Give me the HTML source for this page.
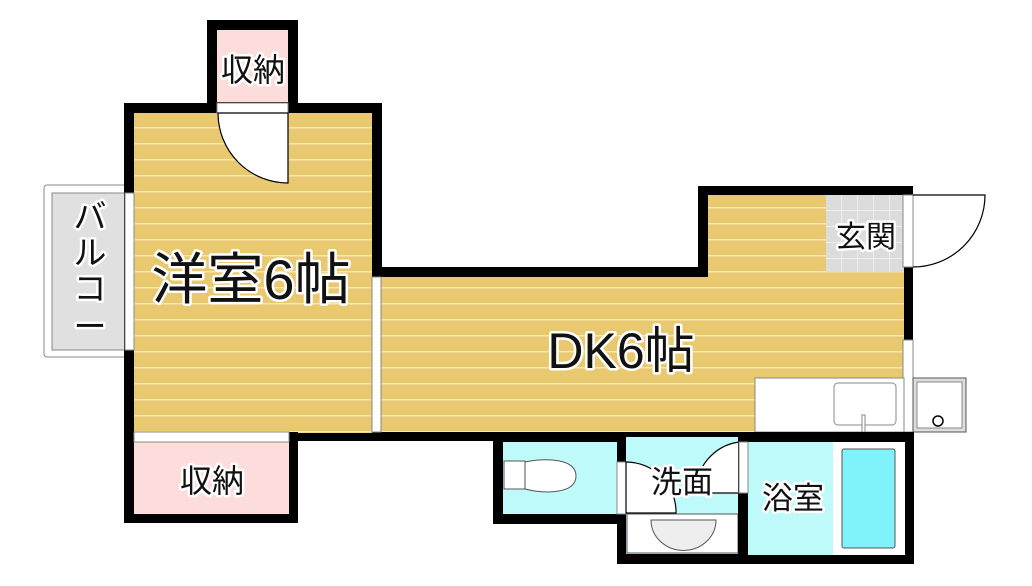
<!DOCTYPE html>
<html><head><meta charset="utf-8"><style>
html,body{margin:0;padding:0;background:#fff;}
svg{display:block}
text{font-family:"Liberation Sans","Noto Sans CJK JP",sans-serif;fill:#111;stroke:#fff;stroke-width:5px;paint-order:stroke;stroke-linejoin:round}
</style></head><body>
<svg width="1032" height="586" viewBox="0 0 1032 586" xmlns="http://www.w3.org/2000/svg">
<defs>
<pattern id="fl" x="0" y="1" width="20" height="16" patternUnits="userSpaceOnUse">
<rect width="20" height="16" fill="#e9c96f"/><rect y="14" width="20" height="1.5" fill="#f6e6b4"/>
</pattern>
<pattern id="tile" x="826" y="195" width="16" height="16" patternUnits="userSpaceOnUse">
<rect width="16" height="16" fill="#dcdcdc"/><path d="M16 0V16M0 16H16" stroke="#fff" stroke-width="1"/>
</pattern>
</defs>
<rect x="44" y="185" width="86" height="172" rx="3" fill="#fff" stroke="#888" stroke-width="1"/>
<rect x="52" y="193" width="76" height="157" fill="#e0e0e0" stroke="#888"/>
<rect x="207" y="20" width="91" height="90" fill="#000"/>
<rect x="217" y="30" width="71" height="72" fill="#fddcdc"/>
<rect x="124" y="103" width="258" height="338" fill="#000"/>
<rect x="134" y="113" width="238" height="320" fill="url(#fl)"/>
<rect x="217" y="103" width="71" height="10" fill="#fff" stroke="#888" stroke-width="1"/>
<path d="M218 113 A70 70 0 0 0 288 183 V113Z" fill="#fff" stroke="#000" stroke-width="1.2"/>
<rect x="125" y="193" width="9" height="157" fill="#fff" stroke="#888" stroke-width="1"/>
<rect x="124" y="432" width="174" height="91" fill="#000"/>
<rect x="134" y="442" width="155" height="72" fill="#fddcdc"/>
<rect x="134" y="432" width="155" height="10" fill="#fff" stroke="#888" stroke-width="1"/>
<path d="M372 267 H698 V186 H913 V441 H372Z" fill="#000"/>
<path d="M381 277 H708 V195 H904 V432 H381Z" fill="url(#fl)"/>
<rect x="372" y="277" width="9" height="155" fill="#fff" stroke="#888" stroke-width="1"/>
<rect x="826" y="195" width="78" height="77" fill="url(#tile)"/>
<rect x="903" y="195" width="10" height="72" fill="#fff" stroke="#888" stroke-width="1"/>
<path d="M913 195 H985 A72 72 0 0 1 913 267" fill="none" stroke="#000" stroke-width="1.2"/>
<rect x="903" y="340" width="10" height="92" fill="#fff" stroke="#888" stroke-width="1"/>
<rect x="755" y="378" width="149" height="54" fill="#fff" stroke="#888" stroke-width="1"/>
<rect x="834" y="383" width="62" height="42" rx="4" fill="#fff" stroke="#888"/>
<rect x="862" y="415" width="3" height="17" fill="#fff" stroke="#888" stroke-width="1"/>
<rect x="913" y="378" width="53" height="54" fill="#ddd" stroke="#555"/>
<rect x="917" y="382" width="45" height="46" fill="#fff" stroke="#888"/>
<circle cx="938" cy="421" r="5" fill="#fff" stroke="#000" stroke-width="1.5"/>
<rect x="493" y="432" width="134" height="92" fill="#000"/>
<rect x="503" y="442" width="114" height="72" fill="#bffafa"/>
<path d="M504 461 H525 V489 H504Z" fill="#fff" stroke="#555"/>
<path d="M525 462 C545 458 576 458 576 476 C576 494 545 494 525 489Z" fill="#fff" stroke="#555"/>
<rect x="617" y="432" width="131" height="132" fill="#000"/>
<rect x="626" y="437" width="113" height="117" fill="#bffafa"/>
<rect x="617" y="462" width="9" height="52" fill="#fff" stroke="#888" stroke-width="1"/>
<path d="M626 462 A50 50 0 0 1 676 513 H626Z" fill="#fff" stroke="#000" stroke-width="1.2"/>
<path d="M739 442 A50 50 0 0 0 696 493 H739Z" fill="#fff" stroke="#000" stroke-width="1.2"/>
<rect x="627" y="514" width="111" height="39" fill="#fff" stroke="#555"/>
<path d="M651 520 H716 A32 30 0 0 1 651 520Z" fill="#eee" stroke="#555"/>
<rect x="738" y="432" width="176" height="132" fill="#000"/>
<rect x="748" y="442" width="157" height="113" fill="#bffafa"/>
<rect x="739" y="442" width="9" height="51" fill="#fff" stroke="#888" stroke-width="1"/>
<rect x="833" y="442" width="72" height="113" fill="#fff"/>
<rect x="842" y="449" width="53" height="99" rx="2" fill="#7ff2fa" stroke="#555"/>
<text x="253" y="81" font-size="32" text-anchor="middle">収納</text>
<text x="212" y="492" font-size="32" text-anchor="middle">収納</text>
<text x="251" y="299" font-size="56" text-anchor="middle">洋室6帖</text>
<text x="621" y="368" font-size="50" text-anchor="middle">DK6帖</text>
<text x="866" y="247" font-size="30" text-anchor="middle">玄関</text>
<text x="682" y="493" font-size="31" text-anchor="middle">洗面</text>
<text x="793" y="509" font-size="31" text-anchor="middle">浴室</text>
<g font-size="33" text-anchor="middle">
<text x="90" y="228">バ</text><text x="90" y="264">ル</text><text x="90" y="300">コ</text><text x="90" y="338">ー</text>
</g>
</svg>
</body></html>
